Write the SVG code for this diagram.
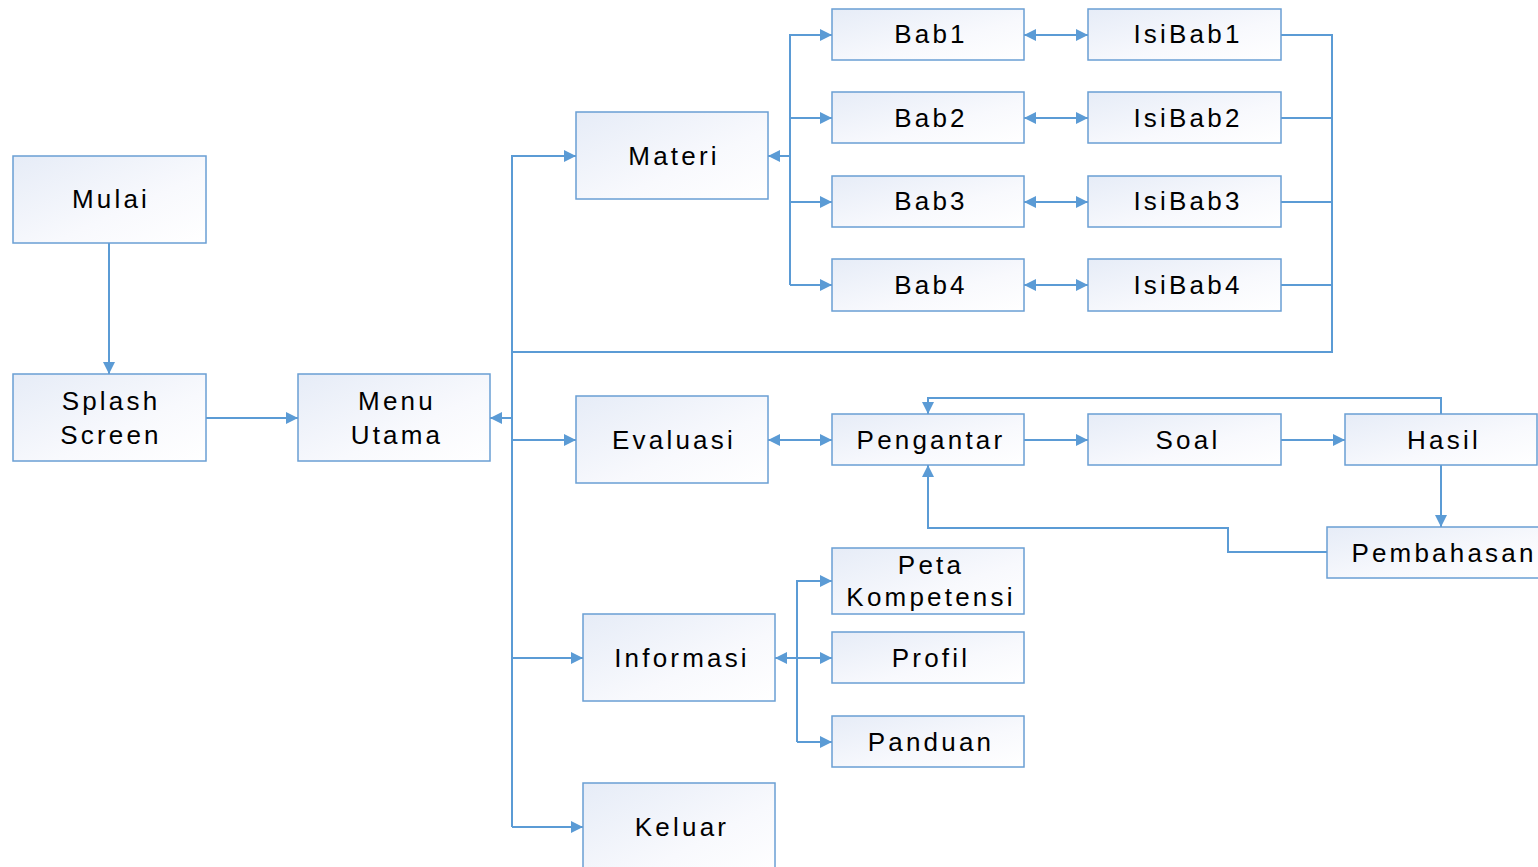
<svg xmlns="http://www.w3.org/2000/svg" width="1538" height="867" viewBox="0 0 1538 867">
<defs>
<linearGradient id="g" x1="0" y1="0" x2="1" y2="1">
<stop offset="0" stop-color="#e6ecf7"/>
<stop offset="0.6" stop-color="#f8f9fd"/>
<stop offset="1" stop-color="#ffffff"/>
</linearGradient>
<marker id="a" viewBox="0 0 10 10" refX="10" refY="5" markerWidth="13" markerHeight="12" markerUnits="userSpaceOnUse" orient="auto-start-reverse">
<path d="M0,0 L10,5 L0,10 z" fill="#5b9bd5"/>
</marker>
<style>
.n rect{fill:url(#g);stroke:#6a9fd4;stroke-width:1.5}
.n text{font-family:"Liberation Sans",Arial,sans-serif;font-size:26px;letter-spacing:3.2px;fill:#000;text-anchor:middle}
#c path{fill:none;stroke:#5b9bd5;stroke-width:2}
</style>
</defs>
<rect width="1538" height="867" fill="#fff"/>
<g id="c">
<path d="M109,243 V374" marker-end="url(#a)"/>
<path d="M206,418 H298" marker-end="url(#a)"/>
<path d="M512,418 H490" marker-end="url(#a)"/>
<path d="M512,827 V156 H576" marker-end="url(#a)"/>
<path d="M512,440 H576" marker-end="url(#a)"/>
<path d="M512,658 H583" marker-end="url(#a)"/>
<path d="M512,827 H583" marker-end="url(#a)"/>
<path d="M1281,35 H1332 V352 H512"/>
<path d="M1281,118 H1332"/>
<path d="M1281,202 H1332"/>
<path d="M1281,285 H1332"/>
<path d="M790,285 V35 H832" marker-end="url(#a)"/>
<path d="M790,118 H832" marker-end="url(#a)"/>
<path d="M790,202 H832" marker-end="url(#a)"/>
<path d="M790,285 H832" marker-end="url(#a)"/>
<path d="M790,156 H768" marker-end="url(#a)"/>
<path d="M1024,35 H1088" marker-start="url(#a)" marker-end="url(#a)"/>
<path d="M1024,118 H1088" marker-start="url(#a)" marker-end="url(#a)"/>
<path d="M1024,202 H1088" marker-start="url(#a)" marker-end="url(#a)"/>
<path d="M1024,285 H1088" marker-start="url(#a)" marker-end="url(#a)"/>
<path d="M768,440 H832" marker-start="url(#a)" marker-end="url(#a)"/>
<path d="M1024,440 H1088" marker-end="url(#a)"/>
<path d="M1281,440 H1345" marker-end="url(#a)"/>
<path d="M1441,414 V398 H928 V414" marker-end="url(#a)"/>
<path d="M1441,465 V527" marker-end="url(#a)"/>
<path d="M1327,552 H1228 V528 H928 V465" marker-end="url(#a)"/>
<path d="M797,742 V581 H832" marker-end="url(#a)"/>
<path d="M797,658 H832" marker-end="url(#a)"/>
<path d="M797,742 H832" marker-end="url(#a)"/>
<path d="M797,658 H775" marker-end="url(#a)"/>
</g>
<g id="mulai" class="n"><rect x="13" y="156" width="193" height="87"/><text x="111" y="208">Mulai</text></g>
<g id="splash" class="n"><rect x="13" y="374" width="193" height="87"/><text x="111" y="410">Splash</text><text x="111" y="444">Screen</text></g>
<g id="menu" class="n"><rect x="298" y="374" width="192" height="87"/><text x="397" y="410">Menu</text><text x="397" y="444">Utama</text></g>
<g id="materi" class="n"><rect x="576" y="112" width="192" height="87"/><text x="674" y="165">Materi</text></g>
<g id="evaluasi" class="n"><rect x="576" y="396" width="192" height="87"/><text x="674" y="449">Evaluasi</text></g>
<g id="informasi" class="n"><rect x="583" y="614" width="192" height="87"/><text x="682" y="667">Informasi</text></g>
<g id="keluar" class="n"><rect x="583" y="783" width="192" height="100"/><text x="682" y="836">Keluar</text></g>
<g id="bab1" class="n"><rect x="832" y="9" width="192" height="51"/><text x="931" y="43">Bab1</text></g>
<g id="bab2" class="n"><rect x="832" y="92" width="192" height="51"/><text x="931" y="127">Bab2</text></g>
<g id="bab3" class="n"><rect x="832" y="176" width="192" height="51"/><text x="931" y="210">Bab3</text></g>
<g id="bab4" class="n"><rect x="832" y="259" width="192" height="52"/><text x="931" y="294">Bab4</text></g>
<g id="isibab1" class="n"><rect x="1088" y="9" width="193" height="51"/><text x="1188" y="43">IsiBab1</text></g>
<g id="isibab2" class="n"><rect x="1088" y="92" width="193" height="51"/><text x="1188" y="127">IsiBab2</text></g>
<g id="isibab3" class="n"><rect x="1088" y="176" width="193" height="51"/><text x="1188" y="210">IsiBab3</text></g>
<g id="isibab4" class="n"><rect x="1088" y="259" width="193" height="52"/><text x="1188" y="294">IsiBab4</text></g>
<g id="pengantar" class="n"><rect x="832" y="414" width="192" height="51"/><text x="931" y="449">Pengantar</text></g>
<g id="soal" class="n"><rect x="1088" y="414" width="193" height="51"/><text x="1188" y="449">Soal</text></g>
<g id="hasil" class="n"><rect x="1345" y="414" width="192" height="51"/><text x="1444" y="449">Hasil</text></g>
<g id="pembahasan" class="n"><rect x="1327" y="527" width="215" height="51"/><text x="1444" y="562">Pembahasan</text></g>
<g id="peta" class="n"><rect x="832" y="548" width="192" height="66"/><text x="931" y="574">Peta</text><text x="931" y="606">Kompetensi</text></g>
<g id="profil" class="n"><rect x="832" y="632" width="192" height="51"/><text x="931" y="667">Profil</text></g>
<g id="panduan" class="n"><rect x="832" y="716" width="192" height="51"/><text x="931" y="751">Panduan</text></g>
</svg>
